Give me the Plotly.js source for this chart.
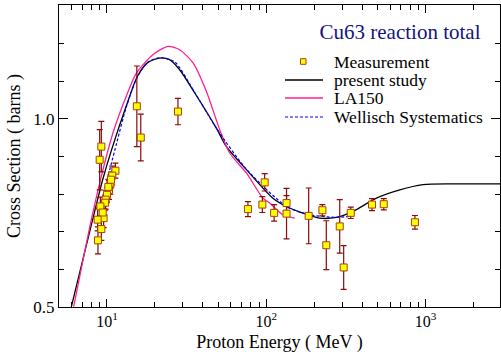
<!DOCTYPE html>
<html>
<head>
<meta charset="utf-8">
<script src="https://cdn.plot.ly/plotly-3.0.1.min.js"></script>
<style>html,body{margin:0;padding:0;background:#fff;}#chart{width:501px;height:356px;}</style>
</head>
<body>
<div id="chart"></div>
<script>
// ---- Data ----
const presentE  = [5.98, 7.84, 9.40, 10.7, 13.2, 15.5, 18.0, 21.4, 24.7, 28.6, 35.5, 48.6, 56.2, 75.0, 110, 140, 216, 275, 350, 491, 688, 963, 1486, 3000];
const presentXS = [0.501, 0.705, 0.838, 0.918, 1.033, 1.112, 1.149, 1.161, 1.157, 1.130, 1.069, 0.975, 0.926, 0.865, 0.789, 0.763, 0.736, 0.738, 0.754, 0.789, 0.811, 0.825, 0.827, 0.827];

const la150E  = [6.18, 7.98, 9.22, 10.9, 13.2, 15.3, 19.4, 24.2, 28.6, 34.7, 42.1, 51.0, 58.9, 75.0, 95.3, 105, 127, 151];
const la150XS = [0.501, 0.732, 0.847, 0.962, 1.059, 1.121, 1.170, 1.192, 1.183, 1.148, 1.072, 0.971, 0.909, 0.856, 0.789, 0.776, 0.745, 0.736];

const wellE  = [10.2, 11.5, 13.2, 15.5, 18.0, 21.4, 26.6, 35.5, 48.6, 75, 134, 187, 275, 342];
const wellXS = [0.850, 0.935, 1.030, 1.110, 1.150, 1.162, 1.151, 1.070, 0.975, 0.866, 0.767, 0.745, 0.738, 0.741];

const measE   = [9.22, 9.0, 11.3, 10.8, 10.5, 10.3, 10.0, 9.81, 9.74, 9.09, 9.53, 9.40, 8.74, 9.22, 8.78, 10.2, 10.6, 15.4, 16.3, 27.9, 76.7, 97.7, 94.5, 112, 134, 134, 184.5, 225, 238, 289, 306, 339, 461, 546, 857];
const measXS  = [0.926, 0.891, 0.862, 0.849, 0.825, 0.811, 0.798, 0.785, 0.777, 0.767, 0.736, 0.751, 0.732, 0.707, 0.677, 0.819, 0.838, 1.033, 0.950, 1.019, 0.760, 0.831, 0.772, 0.750, 0.776, 0.748, 0.742, 0.757, 0.664, 0.714, 0.605, 0.750, 0.772, 0.773, 0.725];
const measErr = [0.067, 0.080, 0.020, 0.025, 0.025, 0.025, 0.020, 0.025, 0.020, 0.025, 0.025, 0.020, 0.030, 0.030, 0.036, 0.020, 0.020, 0.107, 0.062, 0.035, 0.020, 0.023, 0.021, 0.022, 0.020, 0.067, 0.074, 0.015, 0.065, 0.071, 0.058, 0.015, 0.016, 0.015, 0.018];

const xMajorTicks = [10, 100, 1000];
const xMajorLabels = ['10<sup>1</sup>', '10<sup>2</sup>', '10<sup>3</sup>'];
const xMinorTicks = [5, 6, 7, 8, 9, 20, 30, 40, 50, 60, 70, 80, 90, 200, 300, 400, 500, 600, 700, 800, 900, 2000];
const yMajorTicks = [0.5, 1.0];
const yMajorLabels = ['0.5', '1.0'];

const seriesNames = ['Measurement', 'present study', 'LA150', 'Wellisch Systematics'];
const chartTitle = 'Cu63 reaction total';

// ---- Styles ----
const FONT = 'Liberation Serif, Times New Roman, serif';
const BLACK = '#000000', PINK = '#ff2090', BLUE = '#0000ff';
const MFILL = '#ffff00', MEDGE = '#a8400c', ERRC = '#8b0a0a';

const traces = [
  {x: presentE, y: presentXS, mode: 'lines', name: seriesNames[1], line: {color: BLACK, width: 1.3, shape: 'spline', smoothing: 0.7}, showlegend: false},
  {x: la150E, y: la150XS, mode: 'lines', name: seriesNames[2], line: {color: PINK, width: 1.3, shape: 'spline', smoothing: 0.7}, showlegend: false},
  {x: wellE, y: wellXS, mode: 'lines', name: seriesNames[3], line: {color: BLUE, width: 1.2, dash: '3px,2px', shape: 'spline', smoothing: 0.7}, showlegend: false},
  {x: measE, y: measXS, mode: 'markers', name: seriesNames[0], showlegend: false,
   marker: {symbol: 'square', size: 7, color: MFILL, line: {color: MEDGE, width: 1}},
   error_y: {type: 'data', array: measErr, visible: true, color: ERRC, thickness: 1.2, width: 3}}
];

// manual legend geometry (paper coords)
const L = 59, W = 441, T = 5, H = 302;
const px = v => (v - L) / W;
const py = v => (T + H - v) / H;
const rows = [61.5, 80, 98, 117];
const lx0 = px(285), lx1 = px(323), tx = px(332);

const shapes = [
  {type: 'line', xref: 'paper', yref: 'paper', x0: lx0, x1: lx1, y0: py(rows[1]), y1: py(rows[1]), line: {color: BLACK, width: 1.3}},
  {type: 'line', xref: 'paper', yref: 'paper', x0: lx0, x1: lx1, y0: py(rows[2]), y1: py(rows[2]), line: {color: PINK, width: 1.3}},
  {type: 'line', xref: 'paper', yref: 'paper', x0: lx0, x1: lx1, y0: py(rows[3]), y1: py(rows[3]), line: {color: BLUE, width: 1.2, dash: '3px,2px'}},
  {type: 'rect', xref: 'paper', yref: 'paper', x0: px(300.5), x1: px(306), y0: py(rows[0] + 2.8), y1: py(rows[0] - 2.8), fillcolor: MFILL, line: {color: MEDGE, width: 1}}
];
const annotations = seriesNames.map((n, i) => ({
  text: n, xref: 'paper', yref: 'paper', x: tx, y: py(rows[i]), xanchor: 'left', yanchor: 'middle',
  showarrow: false, font: {family: FONT, size: 17.5, color: '#000'}
}));

const layout = {
  width: 501, height: 356,
  margin: {l: 59, r: 1, t: 5, b: 49},
  paper_bgcolor: '#fff', plot_bgcolor: '#fff',
  font: {family: FONT, color: '#000'},
  showlegend: false,
  title: {text: chartTitle, font: {family: FONT, size: 21, color: '#14147e'}, xref: 'paper', yref: 'paper', x: px(400), xanchor: 'center', y: py(31.5), yanchor: 'middle'},
  xaxis: {
    type: 'log', range: [Math.log10(5), Math.log10(2930)],
    tickmode: 'array', tickvals: xMajorTicks, ticktext: xMajorLabels,
    ticks: 'inside', ticklen: 8, tickwidth: 1, tickcolor: '#000',
    minor: {tickmode: 'array', tickvals: xMinorTicks, ticks: 'inside', ticklen: 5, tickwidth: 1, tickcolor: '#000', showgrid: false},
    showline: true, linecolor: '#000', linewidth: 1, mirror: 'allticks',
    showgrid: false, zeroline: false,
    tickfont: {family: FONT, size: 16},
    title: {text: 'Proton Energy ( MeV )', font: {family: FONT, size: 18}, standoff: 6}
  },
  yaxis: {
    range: [0.5, 1.302],
    tickmode: 'array', tickvals: yMajorTicks, ticktext: yMajorLabels,
    ticks: 'inside', ticklen: 9, tickwidth: 1, tickcolor: '#000',
    minor: {tickmode: 'linear', tick0: 0.5, dtick: 0.1, ticks: 'inside', ticklen: 5, tickwidth: 1, tickcolor: '#000', showgrid: false},
    showline: true, linecolor: '#000', linewidth: 1, mirror: 'allticks',
    showgrid: false, zeroline: false,
    tickfont: {family: FONT, size: 17},
    title: {text: 'Cross Section ( barns )', font: {family: FONT, size: 18}, standoff: 8}
  },
  shapes: shapes,
  annotations: annotations
};

Plotly.newPlot('chart', traces, layout, {staticPlot: true, displayModeBar: false});
</script>
</body>
</html>
